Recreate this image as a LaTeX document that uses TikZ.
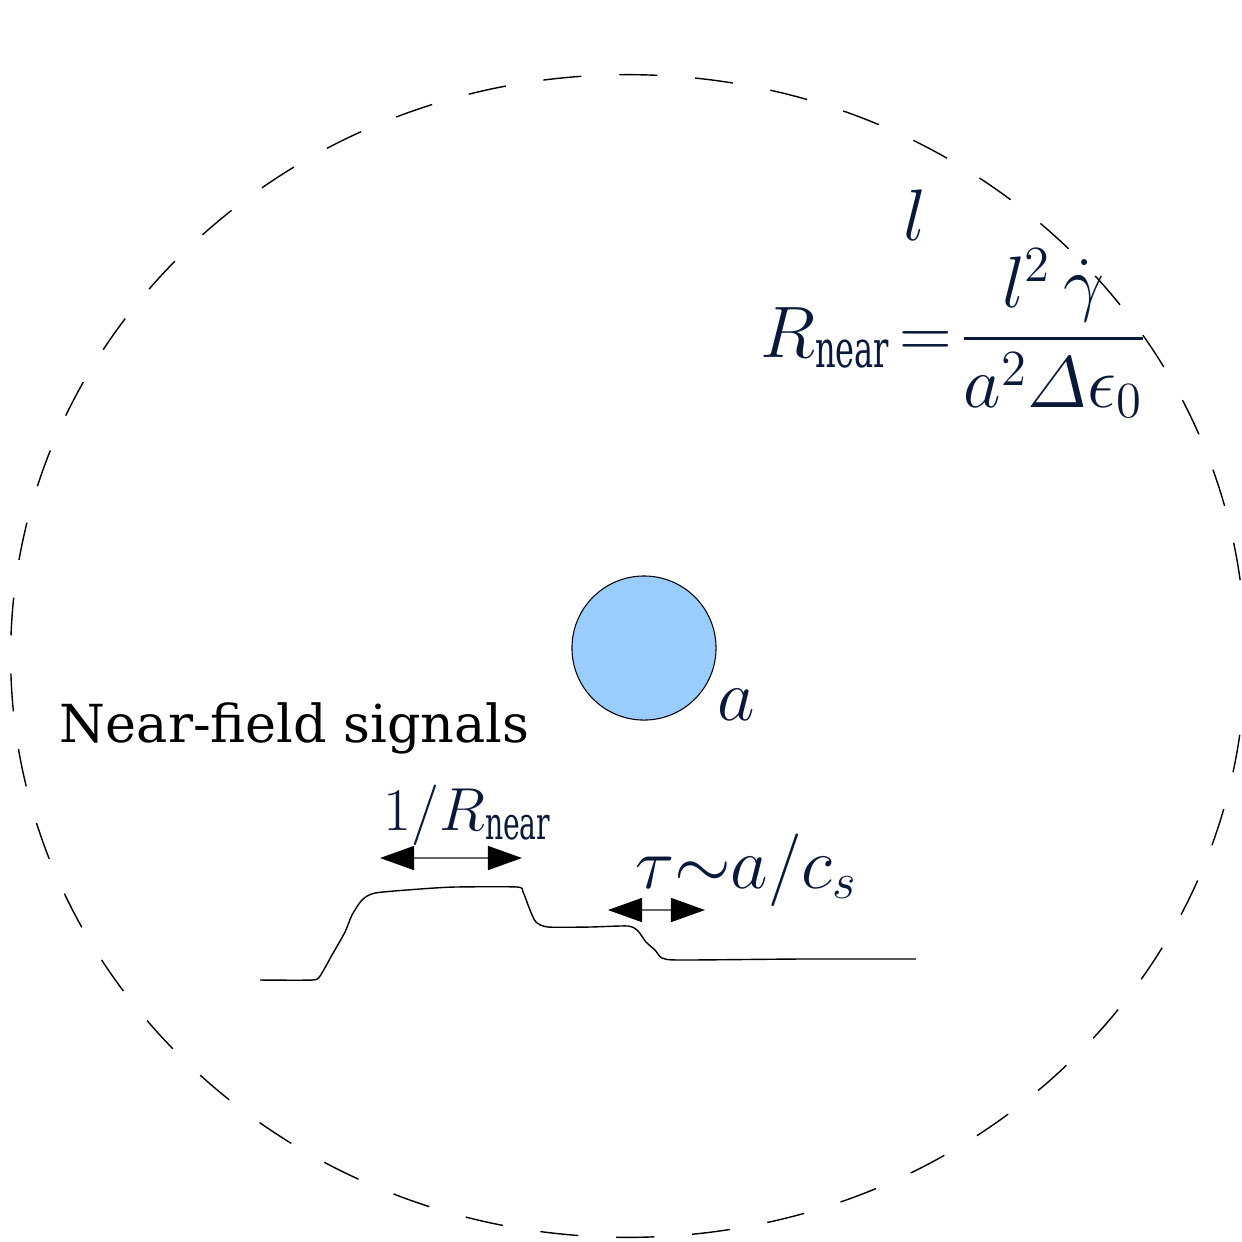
\documentclass[tikz,border=0pt]{standalone}
\usepackage{amsmath}
\usepackage{fontspec}
\setmainfont{DejaVu Serif}
\usetikzlibrary{arrows.meta}
\definecolor{navyink}{RGB}{10,24,58}
\definecolor{grainblue}{HTML}{99CCFF}
\newcommand{\nearsub}{\scalebox{0.62}[1]{$\scriptstyle\mathrm{near}$}}

\begin{document}
\begin{tikzpicture}[
    x=0.01cm, y=-0.01cm,
    every node/.style={inner sep=0pt, outer sep=0pt},
    mathlabel/.style={text=navyink, font=\fontsize{21}{25}\selectfont},
    smalllabel/.style={text=navyink, font=\fontsize{18.5}{22}\selectfont},
    plainlabel/.style={text=black, font=\fontsize{14.9}{17}\selectfont},
    boundary/.style={draw=black, line width=0.4pt,
        dash pattern=on 3.8mm off 3.8mm},
    grain/.style={circle, draw=black, line width=0.3pt,
        fill=grainblue, minimum size=1.44cm},
    dimarrow/.style={
        {Triangle[length=3.4mm,width=2.4mm,color=black]}-{Triangle[length=3.4mm,width=2.4mm,color=black]},
        draw=black!60, line width=0.4pt},
    signal/.style={draw=black, line width=0.4pt, line join=round}
  ]
  \useasboundingbox (0,0) rectangle (1242,1241);
  \draw[boundary] (628,656) ellipse [x radius=6.17cm, y radius=5.81cm];
  \node[grain] (grain) at (644,648) {};
  \node[mathlabel, anchor=base] (radius) at (736,720) {$a$};
  \node[mathlabel, anchor=base] (size) at (915,240) {$l$};
  \node[mathlabel, anchor=base east] (rate) at (1147,357)
  {$R_{\nearsub}\!=\!\displaystyle\frac{l^2\,\dot{\gamma}}{a^2\varDelta\epsilon_0}$};
  \node[plainlabel, anchor=base west] (title) at (60,742) {Near-field signals};
  \node[smalllabel, anchor=base] (period) at (468,830) {$1/R_{\nearsub}$};
  \node[mathlabel, anchor=base west] (rise) at (635,888) {$\tau{\sim}a/c_s$};
  \coordinate (p1) at (380,858);
  \coordinate (p2) at (522,858);
  \coordinate (t1) at (608,910);
  \coordinate (t2) at (705,910);
  \draw[dimarrow] (p1) -- (p2);
  \draw[dimarrow] (t1) -- (t2);
  \draw[signal] plot[smooth, tension=0.4] coordinates {
      (260,980) (312,980) (320,976) (332,955) (345,932) (352,915)
      (362,900) (375,893) (420,889) (455,887) (517,887) (523,892)
      (530,910) (536,922) (548,927) (590,927) (628,926) (638,931)
      (646,942) (655,950) (662,958) (680,960) (800,959) (916,959)};
\end{tikzpicture}
\end{document}
